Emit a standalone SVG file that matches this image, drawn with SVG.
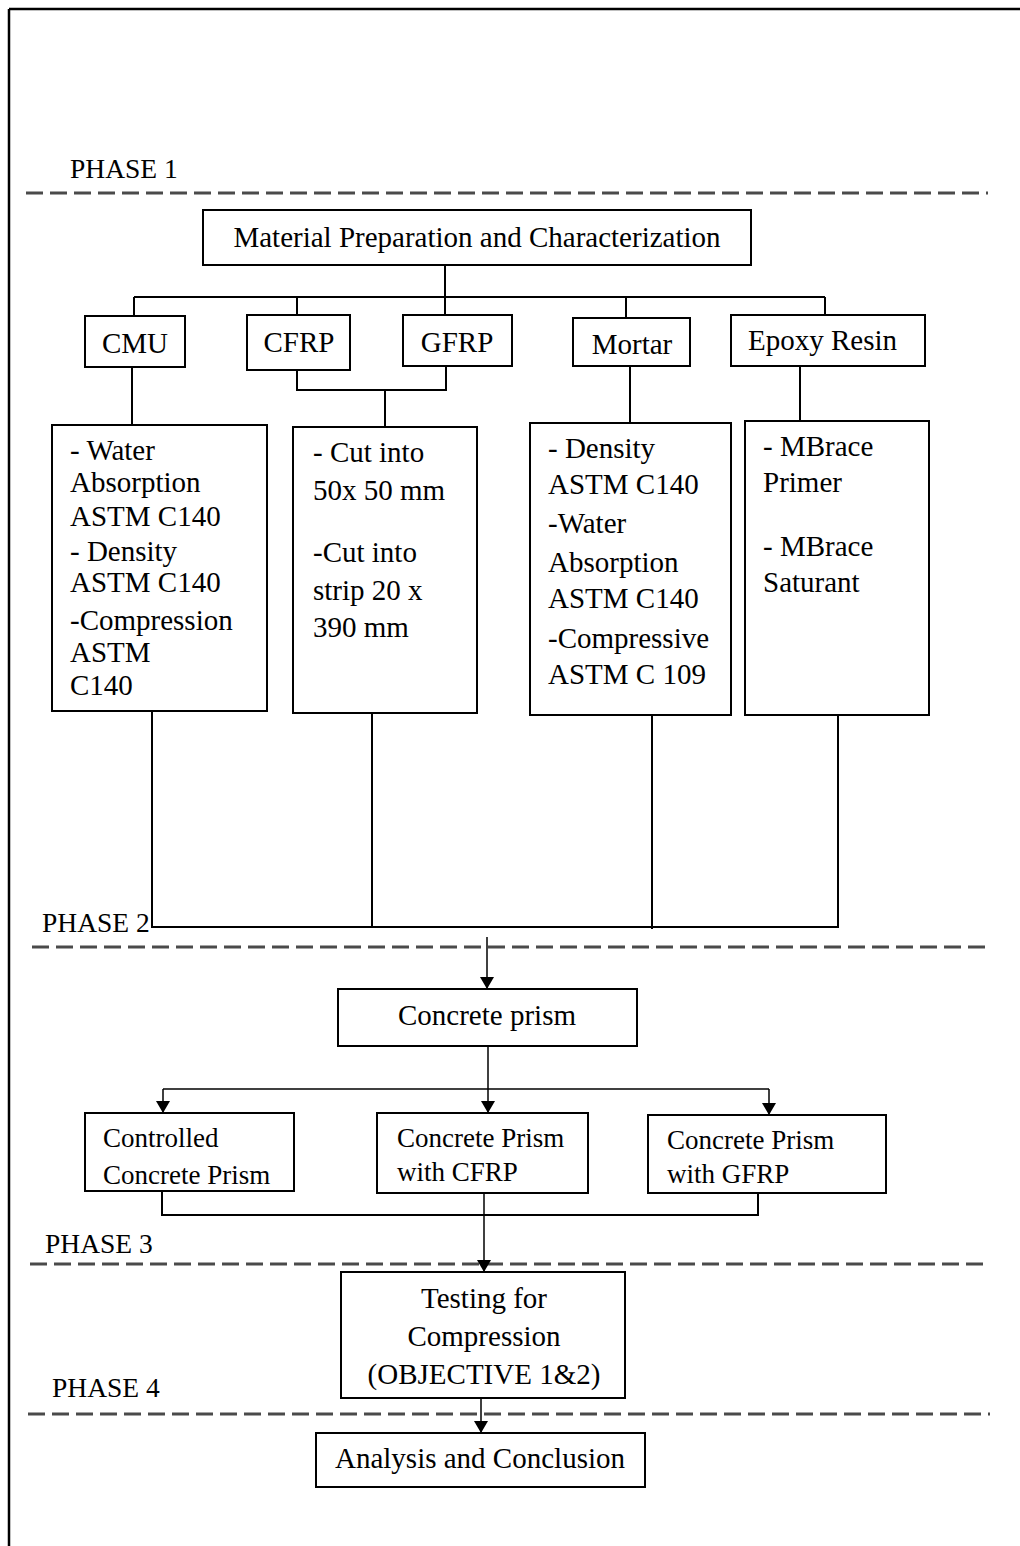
<svg xmlns="http://www.w3.org/2000/svg" width="1020" height="1546" viewBox="0 0 1020 1546">
<style>
text{font-family:"Liberation Serif","Times New Roman",serif;font-size:29px;fill:#000}
.c{text-anchor:middle}
.ph{font-size:27.5px}
.lo{font-size:27px}
.box{fill:#fff;stroke:#000;stroke-width:2}
.ln{fill:none;stroke:#000;stroke-width:2}
.ar{fill:none;stroke:#000;stroke-width:1.5}
.dash{fill:none;stroke:#4a4a4a;stroke-width:3;stroke-dasharray:17 7}
</style>
<defs>
<marker id="ah" viewBox="0 0 12 14" refX="12" refY="7" markerWidth="12" markerHeight="14" markerUnits="userSpaceOnUse" orient="auto">
<path d="M0,0 L12,7 L0,14 Z" fill="#000"/>
</marker>
</defs>
<rect width="1020" height="1546" fill="#fff"/>
<g id="frame">
<line x1="9" y1="9" x2="1020" y2="9" stroke="#000" stroke-width="2.5"/>
<line x1="9" y1="9" x2="9" y2="1546" stroke="#000" stroke-width="2.5"/>
</g>
<g id="phases">
<text class="ph" x="70" y="178">PHASE 1</text>
<line class="dash" x1="26" y1="193" x2="988" y2="193"/>
<text class="ph" x="42" y="932">PHASE 2</text>
<line class="dash" x1="32" y1="947" x2="992" y2="947"/>
<text class="ph" x="45" y="1253">PHASE 3</text>
<line class="dash" x1="30" y1="1264" x2="990" y2="1264"/>
<text class="ph" x="52" y="1397">PHASE 4</text>
<line class="dash" x1="28" y1="1414" x2="990" y2="1414"/>
</g>
<g id="connectors">
<path class="ln" d="M445,265 V316 M134,297 H825 M134,297 V316 M297,297 V315 M626,297 V318 M825,297 V315"/>
<path class="ln" d="M297,370 V390 H446 V366 M385,390 V427"/>
<path class="ln" d="M132,367 V425 M630,366 V423 M800,366 V421"/>
<path class="ln" d="M152,711 V927 H838 V715 M372,713 V927 M652,715 V929"/>
<path class="ar" d="M487,937 V989" marker-end="url(#ah)"/>
<path class="ar" d="M488,1046 V1113" marker-end="url(#ah)"/>
<path class="ar" d="M163,1089 H769"/>
<path class="ar" d="M163,1089 V1113" marker-end="url(#ah)"/>
<path class="ar" d="M769,1089 V1115" marker-end="url(#ah)"/>
<path class="ln" d="M162,1191 V1215 H758 V1193"/>
<path class="ar" d="M484,1193 V1272" marker-end="url(#ah)"/>
<path class="ar" d="M481,1395 V1433" marker-end="url(#ah)"/>
</g>
<g id="material">
<rect class="box" x="203" y="210" width="548" height="55"/>
<text class="c" x="477" y="247">Material Preparation and Characterization</text>
</g>
<g id="cmu">
<rect class="box" x="85" y="316" width="100" height="51"/>
<text class="c" x="135" y="353">CMU</text>
</g>
<g id="cfrp">
<rect class="box" x="247" y="315" width="103" height="55"/>
<text class="c" x="299" y="352">CFRP</text>
</g>
<g id="gfrp">
<rect class="box" x="403" y="315" width="109" height="51"/>
<text class="c" x="457" y="352">GFRP</text>
</g>
<g id="mortar">
<rect class="box" x="573" y="318" width="117" height="48"/>
<text class="c" x="632" y="354">Mortar</text>
</g>
<g id="epoxy">
<rect class="box" x="731" y="315" width="194" height="51"/>
<text x="748" y="350">Epoxy Resin</text>
</g>
<g id="cmu-tests">
<rect class="box" x="52" y="425" width="215" height="286"/>
<text x="70" y="460">- Water</text>
<text x="70" y="492">Absorption</text>
<text x="70" y="526">ASTM C140</text>
<text x="70" y="561">- Density</text>
<text x="70" y="592">ASTM C140</text>
<text x="70" y="630">-Compression</text>
<text x="70" y="662">ASTM</text>
<text x="70" y="695">C140</text>
</g>
<g id="frp-cut">
<rect class="box" x="293" y="427" width="184" height="286"/>
<text x="313" y="462">- Cut into</text>
<text x="313" y="500">50x 50 mm</text>
<text x="313" y="562">-Cut into</text>
<text x="313" y="600">strip 20 x</text>
<text x="313" y="637">390 mm</text>
</g>
<g id="mortar-tests">
<rect class="box" x="530" y="423" width="201" height="292"/>
<text x="548" y="458">- Density</text>
<text x="548" y="494">ASTM C140</text>
<text x="548" y="533">-Water</text>
<text x="548" y="572">Absorption</text>
<text x="548" y="608">ASTM C140</text>
<text x="548" y="648">-Compressive</text>
<text x="548" y="684">ASTM C 109</text>
</g>
<g id="epoxy-items">
<rect class="box" x="745" y="421" width="184" height="294"/>
<text x="763" y="456">- MBrace</text>
<text x="763" y="492">Primer</text>
<text x="763" y="556">- MBrace</text>
<text x="763" y="592">Saturant</text>
</g>
<g id="prism">
<rect class="box" x="338" y="989" width="299" height="57"/>
<text class="c" x="487" y="1025">Concrete prism</text>
</g>
<g id="controlled">
<rect class="box" x="85" y="1113" width="209" height="78"/>
<text class="lo" x="103" y="1147">Controlled</text>
<text class="lo" x="103" y="1184">Concrete Prism</text>
</g>
<g id="prism-cfrp">
<rect class="box" x="377" y="1113" width="211" height="80"/>
<text class="lo" x="397" y="1147">Concrete Prism</text>
<text class="lo" x="397" y="1181">with CFRP</text>
</g>
<g id="prism-gfrp">
<rect class="box" x="648" y="1115" width="238" height="78"/>
<text class="lo" x="667" y="1149">Concrete Prism</text>
<text class="lo" x="667" y="1183">with GFRP</text>
</g>
<g id="testing">
<rect class="box" x="341" y="1272" width="284" height="126"/>
<text class="c" x="484" y="1308">Testing for</text>
<text class="c" x="484" y="1346">Compression</text>
<text class="c" x="484" y="1384">(OBJECTIVE 1&amp;2)</text>
</g>
<g id="analysis">
<rect class="box" x="316" y="1433" width="329" height="54"/>
<text class="c" x="480" y="1468">Analysis and Conclusion</text>
</g>
</svg>
